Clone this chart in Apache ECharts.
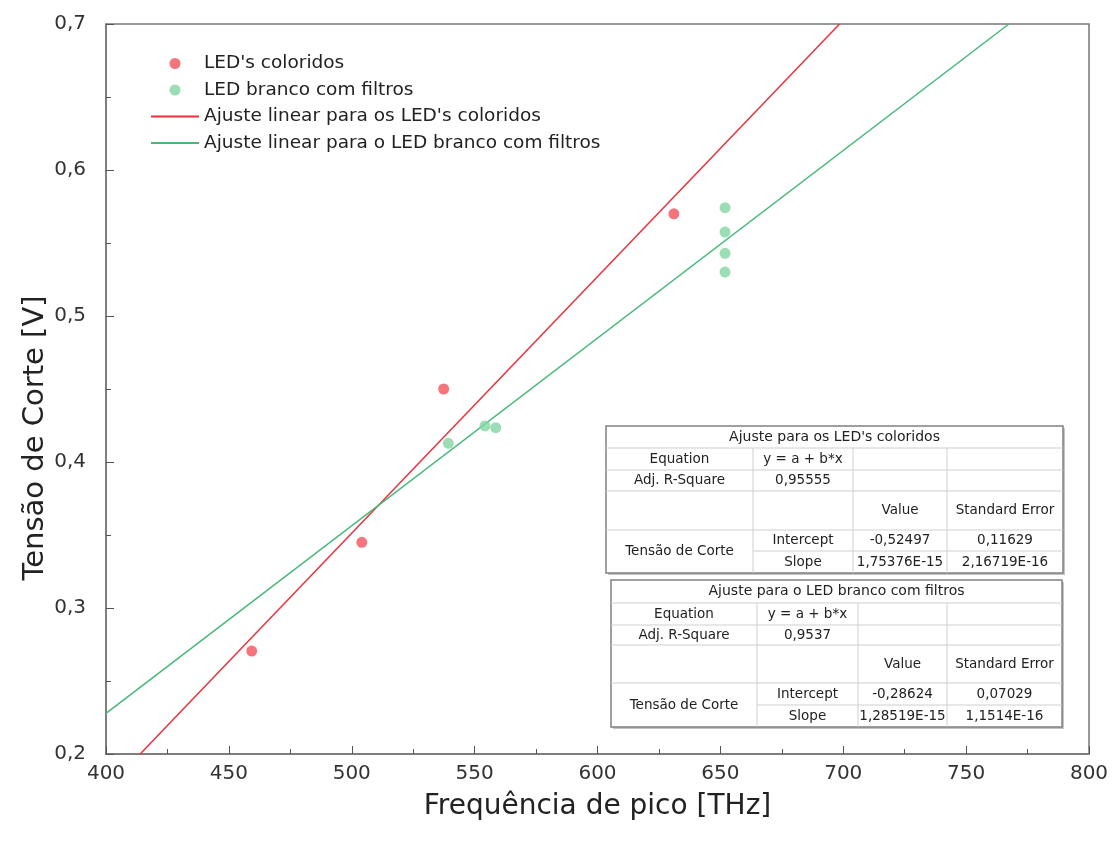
<!DOCTYPE html>
<html>
<head>
    <meta charset="utf-8">
    <title>Tensão de Corte x Frequência</title>
    <script src="https://cdn.jsdelivr.net/npm/echarts@6/dist/echarts.min.js"></script>
    <style type="text/css">
        html, body { margin: 0; padding: 0; background: #fff; }
        #main { width: 1116px; height: 847px; }
    </style>
</head>
<body>
<div id="main"></div>
<script type="text/javascript">
    // pontos medidos (THz, V)
    var coloridosX = [459.3, 504.1, 537.4, 631.1];
    var coloridosY = [0.2705, 0.345, 0.450, 0.570];
    var brancoX = [539.3, 554.2, 558.6, 651.9, 651.9, 651.9, 651.9];
    var brancoY = [0.4128, 0.4247, 0.4235, 0.5742, 0.5575, 0.5429, 0.5301];

    // extremos das retas de ajuste
    var ajusteColoridosX = [413.9, 698.5];
    var ajusteColoridosY = [0.2, 0.7];
    var ajusteBrancoX = [400, 767.4];
    var ajusteBrancoY = [0.2278, 0.7];

    var nomes = ["LED's coloridos", 'LED branco com filtros',
        "Ajuste linear para os LED's coloridos", 'Ajuste linear para o LED branco com filtros'];

    // tabelas de ajuste
    var tituloTab1 = "Ajuste para os LED's coloridos";
    var tab1 = [
        ['Equation', 'y = a + b*x', '', ''],
        ['Adj. R-Square', '0,95555', '', ''],
        ['', '', 'Value', 'Standard Error'],
        ['Tensão de Corte', 'Intercept', '-0,52497', '0,11629'],
        ['', 'Slope', '1,75376E-15', '2,16719E-16']
    ];
    var tituloTab2 = 'Ajuste para o LED branco com filtros';
    var tab2 = [
        ['Equation', 'y = a + b*x', '', ''],
        ['Adj. R-Square', '0,9537', '', ''],
        ['', '', 'Value', 'Standard Error'],
        ['Tensão de Corte', 'Intercept', '-0,28624', '0,07029'],
        ['', 'Slope', '1,28519E-15', '1,1514E-16']
    ];

    function pares(xs, ys) {
        return xs.map(function (x, i) { return [x, ys[i]]; });
    }

    var FONTE = '"DejaVu Sans", sans-serif';
    var FONTE_TAB = '13.5px ' + FONTE;

    // monta uma tabela com graphic (cols/rows = bordas em px)
    function tabela(cols, rows, titulo, linhas) {
        var els = [];
        var x0 = cols[0], x1 = cols[cols.length - 1];
        var y0 = rows[0], y1 = rows[rows.length - 1];
        els.push({type: 'rect', shape: {x: x0 + 2, y: y0 + 2, width: x1 - x0, height: y1 - y0},
            style: {fill: '#c4c4c4'}});
        els.push({type: 'rect', shape: {x: x0, y: y0, width: x1 - x0, height: y1 - y0},
            style: {fill: '#fff', stroke: '#808080', lineWidth: 1.5}});
        for (var i = 1; i < rows.length - 1; i++) {
            var xs = (i === rows.length - 2) ? cols[1] : x0;
            els.push({type: 'line', shape: {x1: xs, y1: rows[i], x2: x1, y2: rows[i]},
                style: {stroke: '#cfcfcf', lineWidth: 1}});
        }
        for (var j = 1; j < cols.length - 1; j++) {
            els.push({type: 'line', shape: {x1: cols[j], y1: rows[1], x2: cols[j], y2: y1},
                style: {stroke: '#cfcfcf', lineWidth: 1}});
        }
        els.push({type: 'text', x: (x0 + x1) / 2, y: (rows[0] + rows[1]) / 2,
            style: {text: titulo, font: '14px ' + FONTE, fill: '#222', align: 'center', verticalAlign: 'middle'}});
        linhas.forEach(function (linha, r) {
            linha.forEach(function (txt, c) {
                if (!txt) return;
                var ya = rows[r + 1], yb = rows[r + 2];
                if (txt === 'Tensão de Corte') yb = rows[r + 3];
                els.push({type: 'text', x: (cols[c] + cols[c + 1]) / 2, y: (ya + yb) / 2,
                    style: {text: txt, font: FONTE_TAB, fill: '#222', align: 'center', verticalAlign: 'middle'}});
            });
        });
        return els;
    }

    var graficos = []
        .concat(tabela([606, 753, 853, 947, 1063], [426, 448, 470, 491, 530, 551, 573], tituloTab1, tab1))
        .concat(tabela([611, 757, 858, 947, 1062], [580, 603, 625, 645, 683, 705, 727], tituloTab2, tab2));

    // titulo do eixo y (deslocado para baixo como no original)
    graficos.push({type: 'text', x: 35, y: 438, rotation: Math.PI / 2,
        style: {text: 'Tensão de Corte [V]', font: '29px ' + FONTE, fill: '#222',
            align: 'center', verticalAlign: 'middle'}});

    var chart = echarts.init(document.getElementById('main'));
    chart.setOption({
        animation: false,
        textStyle: {fontFamily: FONTE},
        grid: {left: 106, right: 27, top: 24, bottom: 93, show: true, borderColor: '#777', borderWidth: 1.5},
        legend: {
            orient: 'vertical', left: 145, top: 49,
            itemWidth: 48, itemHeight: 11, itemGap: 7.5,
            textStyle: {fontSize: 18.5, color: '#222'},
            data: [
                {name: nomes[0]},
                {name: nomes[1]},
                {name: nomes[2], itemStyle: {opacity: 0}},
                {name: nomes[3], itemStyle: {opacity: 0}}
            ]
        },
        xAxis: {
            type: 'value', min: 400, max: 800, interval: 50,
            name: 'Frequência de pico [THz]', nameLocation: 'middle', nameGap: 39,
            nameTextStyle: {fontSize: 28, color: '#222'},
            axisLine: {lineStyle: {color: '#777', width: 1.5}},
            axisTick: {inside: true, length: 8, lineStyle: {color: '#555'}},
            minorTick: {show: true, splitNumber: 2, length: 5, lineStyle: {color: '#555'}},
            splitLine: {show: false},
            axisLabel: {fontSize: 20, color: '#333', margin: 10}
        },
        yAxis: {
            type: 'value', min: 0.2, max: 0.7, interval: 0.1,
            axisLine: {lineStyle: {color: '#777', width: 1.5}},
            axisTick: {inside: true, length: 8, lineStyle: {color: '#555'}},
            minorTick: {show: true, splitNumber: 2, length: 5, lineStyle: {color: '#555'}},
            splitLine: {show: false},
            axisLabel: {
                fontSize: 20, color: '#333', margin: 20,
                formatter: function (v) { return v.toFixed(1).replace('.', ','); }
            }
        },
        series: [
            {name: nomes[0], type: 'scatter', symbolSize: 11, itemStyle: {color: '#f4535b'},
                data: pares(coloridosX, coloridosY), z: 3},
            {name: nomes[1], type: 'scatter', symbolSize: 11, itemStyle: {color: '#82d6a4'},
                data: pares(brancoX, brancoY), z: 3},
            {name: nomes[2], type: 'line', symbol: 'none', showSymbol: false,
                lineStyle: {color: '#e8313b', width: 1.5}, itemStyle: {color: '#e8313b'},
                data: pares(ajusteColoridosX, ajusteColoridosY)},
            {name: nomes[3], type: 'line', symbol: 'none', showSymbol: false,
                lineStyle: {color: '#45b87a', width: 1.5}, itemStyle: {color: '#45b87a'},
                data: pares(ajusteBrancoX, ajusteBrancoY)}
        ],
        graphic: graficos
    });
</script>
</body>
</html>
